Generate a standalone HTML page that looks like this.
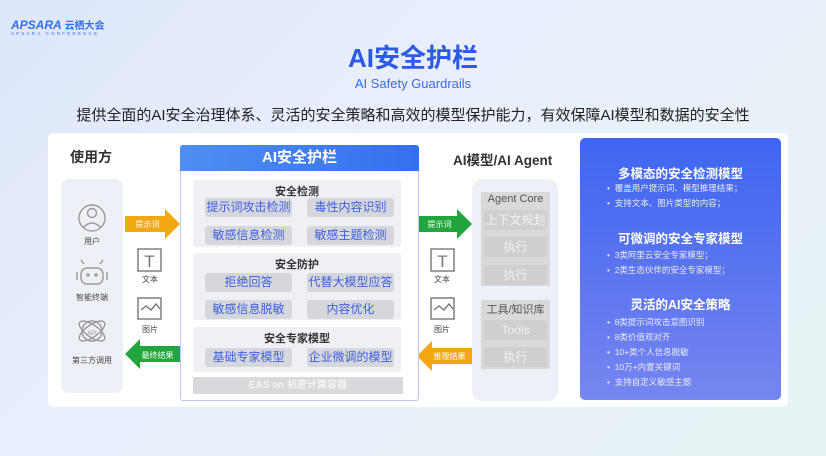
<!DOCTYPE html>
<html><head><meta charset="utf-8"><style>
*{margin:0;padding:0;box-sizing:border-box}
body{width:826px;height:456px;overflow:hidden;font-family:"Liberation Sans","Noto Sans CJK SC",sans-serif;background:linear-gradient(135deg,#dde6fb 0%,#e9effc 40%,#e8f1f7 75%,#e6f3f4 100%);position:relative}
.a{position:absolute}
.c{text-align:center}
.pill{position:absolute;background:#d6d7dc;border-radius:3px;color:#3c5fe0;font-size:12px;text-align:center;line-height:19px;height:19px;width:87px}
.sec{position:absolute;background:#eef0f6;border-radius:3px;left:193px;width:208px}
.st{position:absolute;width:100%;text-align:center;font-size:11px;font-weight:bold;color:#333;top:3px}
.gp{position:absolute;background:#cfcfd1;border-radius:3px;color:#f2f2f2;font-size:12px;text-align:center;height:20px;line-height:20px;left:484px;width:63px}
.lbl{position:absolute;font-size:8px;color:#444;text-align:center}
.bl{font-size:8.5px;color:#e8ecff;position:absolute;left:607px}
.bh{font-size:12.5px;font-weight:bold;color:#fff;position:absolute;left:580px;width:201px;text-align:center}
</style></head><body>
<div class="a" style="left:11px;top:17px;font-size:12px;font-weight:bold;font-style:italic;color:#3470e8;letter-spacing:0">APSARA <span style="font-style:normal;font-size:10px">云栖大会</span></div>
<div class="a" style="left:11px;top:31px;font-size:4.5px;color:#3470e8;letter-spacing:2.2px">APSARA  CONFERENCE</div>
<div class="a c" style="left:0;width:826px;top:38px;font-size:26px;font-weight:bold;color:#2a5ae6">AI安全护栏</div>
<div class="a c" style="left:0;width:826px;top:76px;font-size:13px;color:#3d6ae6">AI Safety Guardrails</div>
<div class="a c" style="left:0;width:826px;top:104px;font-size:15px;color:#222">提供全面的AI安全治理体系、灵活的安全策略和高效的模型保护能力，有效保障AI模型和数据的安全性</div>
<div class="a" style="left:48px;top:133px;width:740px;height:274px;background:#fff;border-radius:5px"></div>
<div class="a" style="left:70px;top:147px;font-size:14px;font-weight:bold;color:#333">使用方</div>
<div class="a" style="left:61px;top:179px;width:62px;height:214px;background:#eef0f8;border-radius:8px"></div>
<svg class="a" style="left:0;top:0" width="826" height="456">
<g fill="none" stroke="#999" stroke-width="1.4">
<circle cx="92" cy="218" r="13"/><circle cx="92" cy="213" r="4.5"/><path d="M83 228q9-10 18 0"/>
<rect x="81" y="268" width="22" height="16" rx="6"/><path d="M84 264l-3-4M100 264l3-4M77 272v8M107 272v8"/><circle cx="88" cy="275" r="1" fill="#999"/><circle cx="96" cy="275" r="1" fill="#999"/>
<circle cx="92" cy="331" r="10"/><ellipse cx="92" cy="331" rx="15" ry="6" transform="rotate(35 92 331)"/><ellipse cx="92" cy="331" rx="15" ry="6" transform="rotate(-35 92 331)"/>
<rect x="138" y="249" width="23" height="22" stroke="#777"/><rect x="138" y="298" width="23" height="21" stroke="#777"/><path d="M141 310l5-4 5 4 5-6 4 5" stroke="#777"/>
<rect x="431" y="249" width="23" height="22" stroke="#777"/><rect x="431" y="298" width="23" height="21" stroke="#777"/><path d="M434 310l5-4 5 4 5-6 4 5" stroke="#777"/>
</g>
<text x="92" y="335" font-size="6" fill="#999" text-anchor="middle" font-family="Liberation Sans">API</text>
<text x="149.5" y="267" font-size="17" fill="#777" text-anchor="middle" font-family="Liberation Sans">T</text>
<text x="442.5" y="267" font-size="17" fill="#777" text-anchor="middle" font-family="Liberation Sans">T</text>
<path d="M125 216h40v-7l15 15-15 15v-7h-40z" fill="#f3a712"/>
<path d="M180 346h-40v-7l-15 15 15 15v-7h40z" fill="#22a53c"/>
<path d="M417 216h40v-7l15 15-15 15v-7h-40z" fill="#22a53c"/>
<path d="M472 348h-40v-7l-15 15 15 15v-7h40z" fill="#f3a712"/>
</svg>
<div class="lbl" style="left:61px;width:62px;top:236px">用户</div>
<div class="lbl" style="left:61px;width:62px;top:292px">智能终端</div>
<div class="lbl" style="left:61px;width:62px;top:355px">第三方调用</div>
<div class="lbl" style="left:125px;width:45px;top:219px;color:#fff">提示词</div>
<div class="lbl" style="left:135px;width:45px;top:350px;color:#fff">最终结果</div>
<div class="lbl" style="left:130px;width:40px;top:274px">文本</div>
<div class="lbl" style="left:130px;width:40px;top:324px">图片</div>
<div class="lbl" style="left:417px;width:45px;top:219px;color:#fff">提示词</div>
<div class="lbl" style="left:427px;width:45px;top:351px;color:#fff">推理结果</div>
<div class="lbl" style="left:422px;width:40px;top:274px">文本</div>
<div class="lbl" style="left:422px;width:40px;top:324px">图片</div>
<div class="a" style="left:180px;top:145px;width:239px;height:256px;border:1px solid #b8c8ee;border-radius:3px;background:#fff"></div>
<div class="a c" style="left:180px;top:145px;width:239px;height:26px;background:linear-gradient(90deg,#4f8ff0,#3470ee);border-radius:3px 3px 0 0;color:#fff;font-size:15px;font-weight:bold;line-height:26px">AI安全护栏</div>
<div class="sec" style="top:180px;height:67px"><div class="st">安全检测</div></div>
<div class="pill" style="left:205px;top:198px">提示词攻击检测</div><div class="pill" style="left:307px;top:198px">毒性内容识别</div>
<div class="pill" style="left:205px;top:226px">敏感信息检测</div><div class="pill" style="left:307px;top:226px">敏感主题检测</div>
<div class="sec" style="top:253px;height:67px"><div class="st">安全防护</div></div>
<div class="pill" style="left:205px;top:273px">拒绝回答</div><div class="pill" style="left:307px;top:273px">代替大模型应答</div>
<div class="pill" style="left:205px;top:300px">敏感信息脱敏</div><div class="pill" style="left:307px;top:300px">内容优化</div>
<div class="sec" style="top:327px;height:45px"><div class="st">安全专家模型</div></div>
<div class="pill" style="left:205px;top:348px">基础专家模型</div><div class="pill" style="left:307px;top:348px">企业微调的模型</div>
<div class="a c" style="left:193px;top:377px;width:210px;height:17px;background:#d8d9dd;color:#f3f3f3;font-size:10px;font-weight:bold;line-height:17px">EAS on 机密计算容器</div>
<div class="a" style="left:453px;top:149px;font-size:13.5px;font-weight:bold;color:#333">AI模型/AI Agent</div>
<div class="a" style="left:472px;top:179px;width:86px;height:222px;background:#eef0f8;border-radius:10px"></div>
<div class="a" style="left:481px;top:192px;width:69px;height:94px;background:#d9d9db"></div>
<div class="a c" style="left:481px;top:193px;width:69px;font-size:11px;color:#555">Agent Core</div>
<div class="gp" style="top:210px">上下文规划</div><div class="gp" style="top:237px">执行</div><div class="gp" style="top:265px">执行</div>
<div class="a" style="left:481px;top:300px;width:69px;height:69px;background:#d9d9db"></div>
<div class="a c" style="left:481px;top:301px;width:69px;font-size:11px;color:#555">工具/知识库</div>
<div class="gp" style="top:320px">Tools</div><div class="gp" style="top:347px">执行</div>
<div class="a" style="left:580px;top:138px;width:201px;height:262px;border-radius:5px;background:linear-gradient(180deg,#3e66f2 0%,#5a74f0 50%,#7786f0 100%)"></div>
<div class="bh" style="top:163px">多模态的安全检测模型</div>
<div class="bl" style="top:182px">•&nbsp;&nbsp;覆盖用户提示词、模型推理结果；</div>
<div class="bl" style="top:197px">•&nbsp;&nbsp;支持文本、图片类型的内容；</div>
<div class="bh" style="top:228px">可微调的安全专家模型</div>
<div class="bl" style="top:249px">•&nbsp;&nbsp;3类阿里云安全专家模型；</div>
<div class="bl" style="top:264px">•&nbsp;&nbsp;2类生态伙伴的安全专家模型；</div>
<div class="bh" style="top:294px">灵活的AI安全策略</div>
<div class="bl" style="top:316px">•&nbsp;&nbsp;8类提示词攻击意图识别</div>
<div class="bl" style="top:331px">•&nbsp;&nbsp;8类价值观对齐</div>
<div class="bl" style="top:346px">•&nbsp;&nbsp;10+类个人信息脱敏</div>
<div class="bl" style="top:361px">•&nbsp;&nbsp;10万+内置关键词</div>
<div class="bl" style="top:376px">•&nbsp;&nbsp;支持自定义敏感主题</div>
</body></html>
